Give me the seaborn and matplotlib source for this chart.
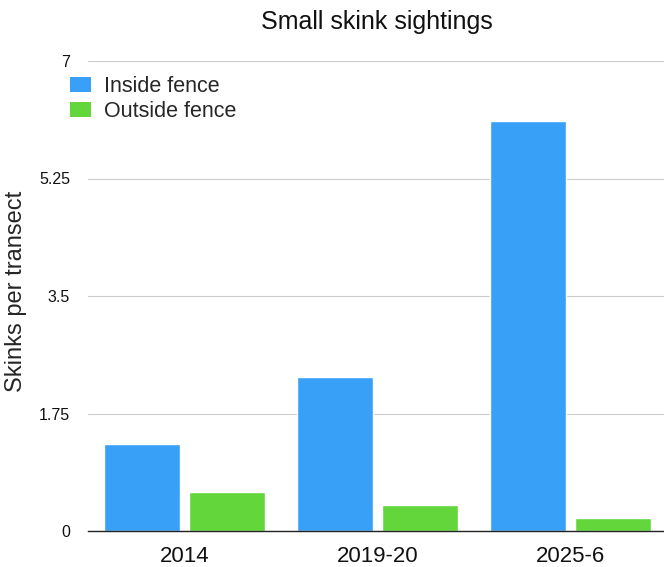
import matplotlib
matplotlib.use("Agg")
import matplotlib.pyplot as plt
import seaborn as sns
import pandas as pd

categories = ["2014", "2019-20", "2025-6"]
inside_fence = [1.3, 2.3, 6.1]
outside_fence = [0.58, 0.39, 0.19]
series_names = ["Inside fence", "Outside fence"]
y_ticks = [0, 1.75, 3.5, 5.25, 7]
y_tick_labels = ["0", "1.75", "3.5", "5.25", "7"]

df = pd.DataFrame({
    "period": categories * 2,
    "value": inside_fence + outside_fence,
    "series": [series_names[0]] * 3 + [series_names[1]] * 3,
})

sns.set_theme(style="white")
plt.rcParams["font.family"] = ["Liberation Sans", "DejaVu Sans"]

fig = plt.figure(figsize=(6.64, 5.67), dpi=100)
ax = fig.add_axes([88 / 664, 36 / 567, 579 / 664, 470 / 567])

palette = {series_names[0]: "#38A0F7", series_names[1]: "#63D63B"}
sns.barplot(data=df, x="period", y="value", hue="series", palette=palette,
            width=0.876, gap=0.096, ax=ax, saturation=1, legend=False,
            order=categories, hue_order=series_names)

ax.set_ylim(0, 7)
ax.set_xlim(-0.5, 2.5)
ax.set_yticks(y_ticks)
ax.set_yticklabels(y_tick_labels, fontsize=11.5)
ax.tick_params(axis="y", length=0, pad=13)
ax.tick_params(axis="x", length=0, pad=11, labelsize=16)
ax.yaxis.grid(True, color="#cccccc", linewidth=0.8)
ax.set_axisbelow(True)
for s in ["left", "right", "top"]:
    ax.spines[s].set_visible(False)
ax.spines["bottom"].set_color("#222222")
ax.spines["bottom"].set_linewidth(1.0)
ax.set_xlabel("")
ax.set_ylabel("Skinks per transect", fontsize=17)
ax.yaxis.set_label_coords(-0.106, 0.51)
for lab in ax.get_xticklabels() + ax.get_yticklabels():
    lab.set_color("#111111")

fig.text(377 / 664, 1 - 22 / 567, "Small skink sightings", ha="center", va="center",
         fontsize=18, color="#111111")

from matplotlib.patches import Patch
handles = [Patch(facecolor=palette[n], edgecolor="none", label=n) for n in series_names]
fig.legend(handles=handles, loc="upper left", bbox_to_anchor=(70 / 664, 1 - 76 / 567),
           frameon=False, fontsize=15.5, handlelength=0.98, handleheight=0.7,
           handletextpad=0.62, labelspacing=0.2, borderaxespad=0, borderpad=0)

fig.savefig("out.png", dpi=100)
